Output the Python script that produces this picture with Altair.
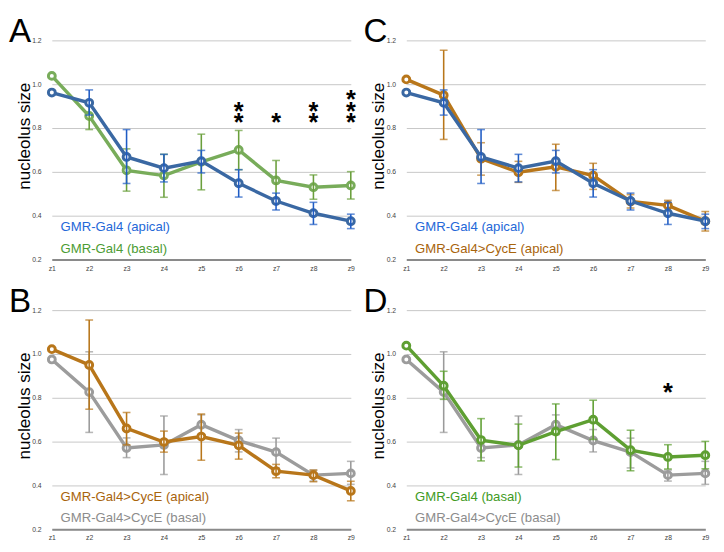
import altair as alt
import pandas as pd

Z = ["z1", "z2", "z3", "z4", "z5", "z6", "z7", "z8", "z9"]

# GMR-Gal4 (apical)
ap_mean = [0.962, 0.915, 0.668, 0.617, 0.649, 0.548, 0.467, 0.411, 0.375]
ap_lo = [None, 0.859, 0.547, 0.554, 0.595, 0.485, 0.426, 0.360, 0.341]
ap_hi = [None, 0.974, 0.793, 0.680, 0.698, 0.610, 0.503, 0.461, 0.407]

# GMR-Gal4 (basal)
ba_mean = [1.038, 0.855, 0.607, 0.583, 0.646, 0.700, 0.561, 0.530, 0.538]
ba_lo = [None, 0.793, 0.512, 0.484, 0.518, 0.610, 0.467, 0.475, 0.476]
ba_hi = [None, 0.921, 0.705, 0.680, 0.772, 0.789, 0.652, 0.586, 0.601]

# GMR-Gal4>CycE (apical)
ce_ap_mean = [1.022, 0.950, 0.660, 0.598, 0.623, 0.583, 0.465, 0.447, 0.375]
ce_ap_lo = [None, 0.748, 0.585, 0.552, 0.515, 0.520, 0.435, 0.417, 0.330]
ce_ap_hi = [None, 1.155, 0.733, 0.648, 0.726, 0.639, 0.496, 0.470, 0.419]

# GMR-Gal4>CycE (basal)
ce_ba_mean = [0.975, 0.826, 0.571, 0.585, 0.677, 0.605, 0.552, 0.447, 0.455]
ce_ba_lo = [None, 0.642, 0.527, 0.450, 0.632, 0.553, 0.480, 0.420, 0.405]
ce_ba_hi = [None, 1.010, 0.617, 0.717, 0.722, 0.655, 0.616, 0.470, 0.510]

# significance stars: (z, number of stars)
stars_A = [("z6", 2), ("z7", 1), ("z8", 2), ("z9", 3)]
stars_D = [("z8", 1)]

Y_TICKS = [0.2, 0.4, 0.6, 0.8, 1.0, 1.2]

W, H = 307, 225
FONT = "Liberation Sans"

S_AP = dict(name="GMR-Gal4 (apical)", mean=ap_mean, lo=ap_lo, hi=ap_hi,
            line="#3a68a3", bar="#1f5cc4", text="#2468d8")
S_BA_A = dict(name="GMR-Gal4 (basal)", mean=ba_mean, lo=ba_lo, hi=ba_hi,
              line="#78ac5a", bar="#6a9f3c", text="#4c9c34")
S_BA_D = dict(name="GMR-Gal4 (basal)", mean=ba_mean, lo=ba_lo, hi=ba_hi,
              line="#5e9f32", bar="#5e9f32", text="#3f9b1f")
S_CAP = dict(name="GMR-Gal4>CycE (apical)", mean=ce_ap_mean, lo=ce_ap_lo, hi=ce_ap_hi,
             line="#b8761a", bar="#b8761a", text="#a8640c")
S_CBA = dict(name="GMR-Gal4>CycE (basal)", mean=ce_ba_mean, lo=ce_ba_lo, hi=ce_ba_hi,
             line="#9c9c9c", bar="#9a9a9a", text="#8c8c8c")

x_enc = alt.X("z:O", sort=Z, scale=alt.Scale(type="point", padding=0),
              axis=alt.Axis(labelAngle=0, labelFontSize=7, labelColor="#444444",
                            ticks=False, domain=True, domainColor="#8a8a8a",
                            domainWidth=2, grid=False, title=None, labelPadding=5))
y_scale = alt.Scale(domain=[0.2, 1.2], nice=False, zero=False)
y_axis = alt.Axis(values=Y_TICKS, format=".1f", labelFontSize=7, labelColor="#444444",
                  ticks=False, domain=False, grid=True, gridColor="#c6c6c6", gridWidth=1,
                  title="nucleolus size", titleFontSize=17.5, titleFontWeight="normal",
                  titleColor="black", titleFont=FONT, labelPadding=11,
                  titleX=-23, titleY=98, titleBaseline="alphabetic")


def series_layers(s):
    df = pd.DataFrame({"z": Z, "mean": s["mean"], "lo": s["lo"], "hi": s["hi"]})
    eb = df.dropna()
    line = alt.Chart(df).mark_line(color=s["line"], strokeWidth=3.5).encode(
        x=x_enc, y=alt.Y("mean:Q", scale=y_scale, axis=y_axis))
    pts = alt.Chart(df).mark_point(shape="circle", size=50, strokeWidth=3,
                                   color=s["line"], fill="white", filled=False,
                                   opacity=1).encode(
        x=x_enc, y=alt.Y("mean:Q", scale=y_scale, axis=y_axis))
    rule = alt.Chart(eb).mark_rule(color=s["bar"], strokeWidth=1.6).encode(
        x=x_enc, y=alt.Y("lo:Q", scale=y_scale, axis=y_axis), y2="hi:Q")
    cap_hi = alt.Chart(eb).mark_tick(color=s["bar"], size=8, thickness=1.6).encode(
        x=x_enc, y=alt.Y("hi:Q", scale=y_scale, axis=y_axis))
    cap_lo = alt.Chart(eb).mark_tick(color=s["bar"], size=8, thickness=1.6).encode(
        x=x_enc, y=alt.Y("lo:Q", scale=y_scale, axis=y_axis))
    return [line, pts, rule, cap_hi, cap_lo]


def panel(letter, top, bottom, stars):
    layers = series_layers(bottom) + series_layers(top)
    for i, s in enumerate([top, bottom]):
        layers.append(
            alt.Chart(pd.DataFrame({"label": [s["name"]]})).mark_text(
                align="left", baseline="middle", fontSize=13.5, font=FONT, color=s["text"]
            ).encode(text="label:N", x=alt.value(9), y=alt.value(192 + 22 * i))
        )
    if stars:
        rows = []
        for z, n in stars:
            rows.append({"z": z, "lvl": 0.83 + 0.053 * (n - 1), "s": "\n".join(["*"] * n)})
        layers.append(
            alt.Chart(pd.DataFrame(rows)).mark_text(
                fontSize=26, fontWeight="bold", font=FONT, color="black",
                baseline="alphabetic", dy=10, lineBreak="\n", lineHeight=12
            ).encode(x=x_enc, y=alt.Y("lvl:Q", scale=y_scale, axis=y_axis), text="s:N")
        )
    layers.append(
        alt.Chart(pd.DataFrame({"t": [letter]})).mark_text(
            align="left", baseline="top", fontSize=34, font=FONT, color="black"
        ).encode(text="t:N", x=alt.value(-44), y=alt.value(-25))
    )
    return alt.layer(*layers).properties(width=W, height=H)


pA = panel("A", S_AP, S_BA_A, stars_A)
pC = panel("C", S_AP, S_CAP, None)
pB = panel("B", S_CAP, S_CBA, None)
pD = panel("D", S_BA_D, S_CBA, stars_D)

chart = alt.vconcat(
    alt.hconcat(pA, pC, spacing=1),
    alt.hconcat(pB, pD, spacing=1),
    spacing=13,
)

chart = chart.properties(padding=0).configure(font=FONT).configure_view(stroke="transparent")

chart.save("out.html", embed_options={"renderer": "svg", "actions": False})
